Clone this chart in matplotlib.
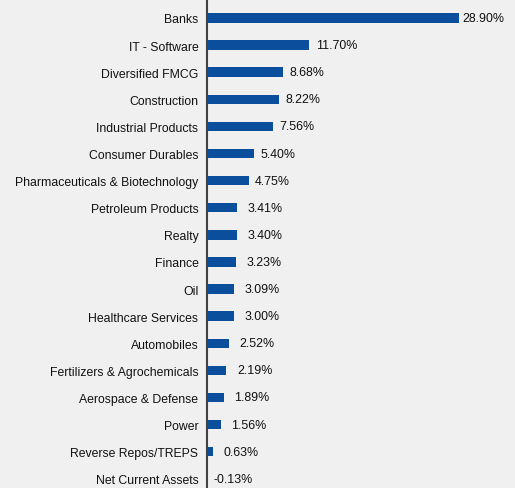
import numpy as np
import matplotlib.pyplot as plt

plt.rcParams['font.family'] = ['Liberation Sans', 'DejaVu Sans']

# sector allocation, % of net assets
sectors = ["Banks", "IT - Software", "Diversified FMCG", "Construction",
           "Industrial Products", "Consumer Durables",
           "Pharmaceuticals & Biotechnology", "Petroleum Products", "Realty",
           "Finance", "Oil", "Healthcare Services", "Automobiles",
           "Fertilizers & Agrochemicals", "Aerospace & Defense", "Power",
           "Reverse Repos/TREPS", "Net Current Assets"]
weights = [28.90, 11.70, 8.68, 8.22, 7.56, 5.40, 4.75, 3.41, 3.40,
           3.23, 3.09, 3.00, 2.52, 2.19, 1.89, 1.56, 0.63, -0.13]

bar_color = "#0B4F9C"
bg = "#F0F0F0"


def label_gap(v):
    # gap (in pixels) between bar end and its value label
    if v > 20:
        return 3.5
    if 0 < v < 4:
        return 10.5
    return 6.5


fig = plt.figure(figsize=(5.15, 4.89), dpi=100, facecolor=bg)
ax = fig.add_axes([204/515, 0.0, 311/515, 1.0], facecolor=bg)

y = np.arange(len(sectors))
ax.barh(y, weights, height=0.35, color=bar_color)
ax.axvline(0, color="#404040", lw=1.5)

for yi, w in zip(y, weights):
    ax.annotate("{:.2f}%".format(w), (max(w, 0), yi),
                xytext=(label_gap(w) * 0.72, 0), textcoords="offset points",
                va="center", ha="left", fontsize=8.9, color="#111111")

ax.set_yticks(y)
ax.set_yticklabels(sectors, fontsize=8.85, color="#111111")
ax.tick_params(axis="y", length=0, pad=4)
ax.set_xticks([])
ax.set_xlim(-0.4, 35.4)
ax.set_ylim(len(sectors) - 1 + 0.34, -0.70)
for s in ax.spines.values():
    s.set_visible(False)

fig.savefig("out.png", dpi=100, facecolor=bg)
